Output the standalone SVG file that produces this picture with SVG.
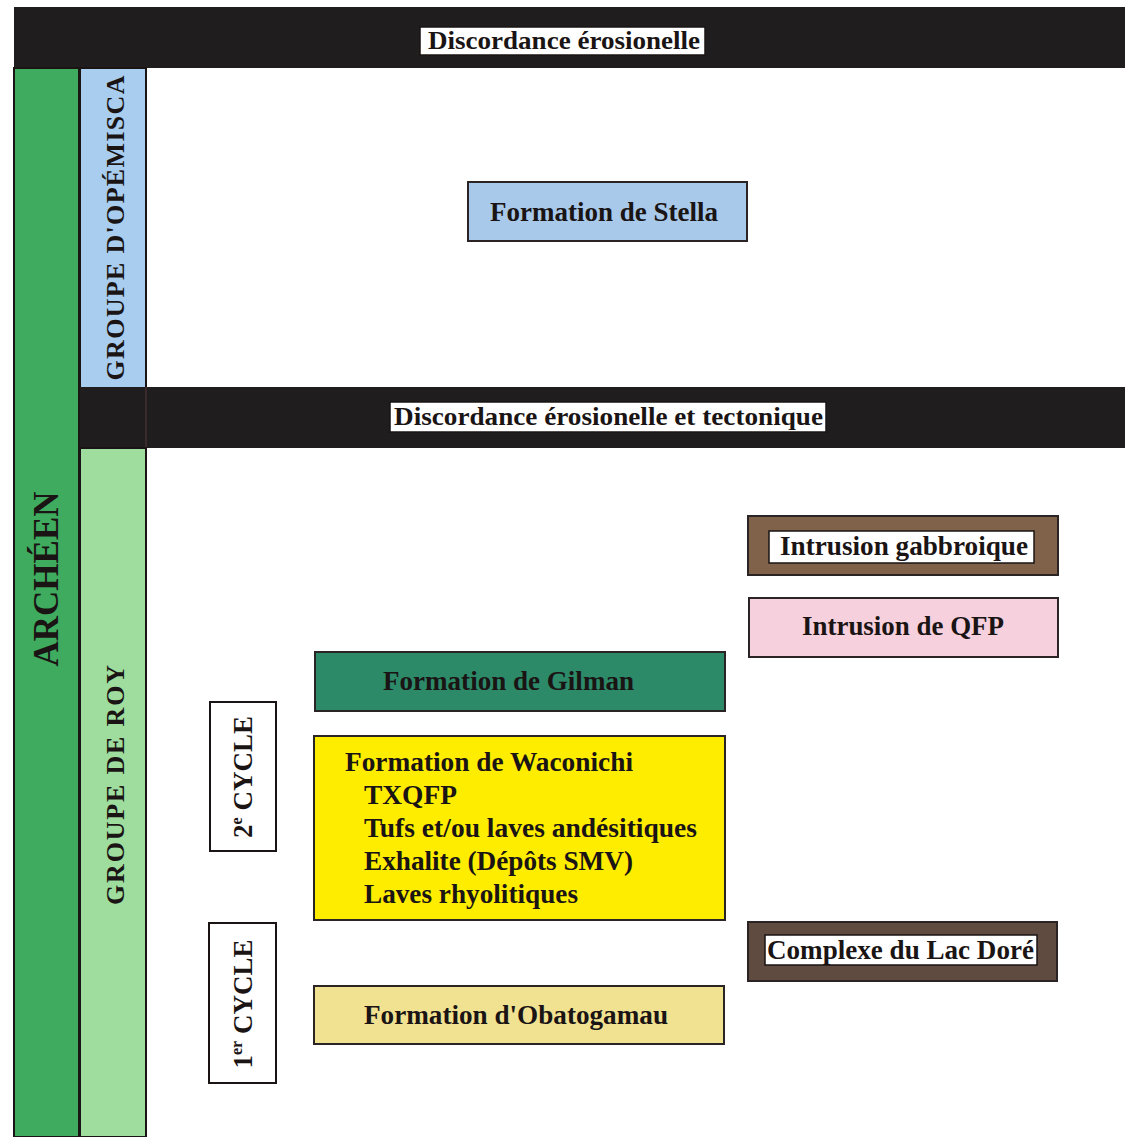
<svg xmlns="http://www.w3.org/2000/svg" width="1125" height="1137" viewBox="0 0 1125 1137">
<style>
text{font-family:"Liberation Serif","Times New Roman",serif;font-weight:bold;fill:#1a1414}
.band{fill:#1f1d1d}
.lab{fill:#ffffff;stroke:#1a1414;stroke-width:1.5}
.box{stroke:#2a2424;stroke-width:2}
</style>
<rect width="1125" height="1137" fill="#ffffff"/>
<g id="band-top">
<rect class="band" x="14" y="7" width="1111" height="61"/>
<rect class="lab" x="420" y="27" width="285" height="28"/>
<text x="428" y="49" font-size="26" textLength="272" lengthAdjust="spacingAndGlyphs">Discordance érosionelle</text>
</g>
<g id="archeen">
<rect x="14" y="68" width="65" height="1069" fill="#3fab5f" stroke="#1a1414" stroke-width="2"/>
<text transform="translate(58,579) rotate(-90)" font-size="35" text-anchor="middle">ARCHÉEN</text>
</g>
<g id="opemisca">
<rect x="80" y="68" width="66" height="320" fill="#a8cdee" stroke="#1a1414" stroke-width="2"/>
<text transform="translate(124,228) rotate(-90)" font-size="26" text-anchor="middle" textLength="305" lengthAdjust="spacing">GROUPE D'OPÉMISCA</text>
</g>
<g id="band-mid">
<rect class="band" x="80" y="387" width="1045" height="61"/>
<line x1="146" y1="387" x2="146" y2="448" stroke="#3a2a2a" stroke-width="2"/>
<rect class="lab" x="390" y="402" width="436" height="30"/>
<text x="394" y="425" font-size="26" textLength="429" lengthAdjust="spacingAndGlyphs">Discordance érosionelle et tectonique</text>
</g>
<g id="roy">
<rect x="80" y="448" width="66" height="689" fill="#9edd9d" stroke="#1a1414" stroke-width="2"/>
<text transform="translate(124,785) rotate(-90)" font-size="26" text-anchor="middle" textLength="240" lengthAdjust="spacing">GROUPE DE ROY</text>
</g>
<g id="stella">
<rect class="box" x="468" y="182" width="279" height="59" fill="#a8c9ea"/>
<text x="490" y="221" font-size="27" textLength="228" lengthAdjust="spacingAndGlyphs">Formation de Stella</text>
</g>
<g id="gabbro">
<rect class="box" x="748" y="516" width="310" height="59" fill="#7f6249"/>
<rect class="lab" x="769" y="531" width="265" height="32"/>
<text x="780" y="555" font-size="27" textLength="248" lengthAdjust="spacingAndGlyphs">Intrusion gabbroique</text>
</g>
<g id="qfp">
<rect class="box" x="749" y="598" width="309" height="59" fill="#f6d0dd"/>
<text x="802" y="635" font-size="27" textLength="202" lengthAdjust="spacingAndGlyphs">Intrusion de QFP</text>
</g>
<g id="gilman">
<rect class="box" x="315" y="652" width="410" height="59" fill="#2c8a69"/>
<text x="383" y="690" font-size="27" fill="#1e2a24" textLength="251" lengthAdjust="spacingAndGlyphs">Formation de Gilman</text>
</g>
<g id="cycle2">
<rect x="210" y="702" width="66" height="149" fill="#ffffff" stroke="#1a1414" stroke-width="2"/>
<text transform="translate(252,777) rotate(-90)" font-size="27" text-anchor="middle">2<tspan font-size="16" dy="-10">e</tspan><tspan dy="10"> CYCLE</tspan></text>
</g>
<g id="waconichi">
<rect class="box" x="314" y="736" width="411" height="184" fill="#ffed00"/>
<text font-size="27" x="345" y="771" textLength="288" lengthAdjust="spacingAndGlyphs">Formation de Waconichi</text>
<text font-size="27" x="364" y="804" textLength="93" lengthAdjust="spacingAndGlyphs">TXQFP</text>
<text font-size="27" x="364" y="837" textLength="333" lengthAdjust="spacingAndGlyphs">Tufs et/ou laves andésitiques</text>
<text font-size="27" x="364" y="870" textLength="269" lengthAdjust="spacingAndGlyphs">Exhalite (Dépôts SMV)</text>
<text font-size="27" x="364" y="903" textLength="214" lengthAdjust="spacingAndGlyphs">Laves rhyolitiques</text>
</g>
<g id="lacdore">
<rect class="box" x="748" y="922" width="309" height="59" fill="#5f4b40"/>
<rect class="lab" x="765" y="935" width="272" height="30"/>
<text x="767" y="959" font-size="27" textLength="267" lengthAdjust="spacingAndGlyphs">Complexe du Lac Doré</text>
</g>
<g id="cycle1">
<rect x="209" y="923" width="67" height="160" fill="#ffffff" stroke="#1a1414" stroke-width="2"/>
<text transform="translate(252,1004) rotate(-90)" font-size="27" text-anchor="middle">1<tspan font-size="16" dy="-10">er</tspan><tspan dy="10"> CYCLE</tspan></text>
</g>
<g id="obatogamau">
<rect class="box" x="314" y="986" width="410" height="58" fill="#f1e291"/>
<text x="364" y="1024" font-size="27" textLength="304" lengthAdjust="spacingAndGlyphs">Formation d'Obatogamau</text>
</g>
<g id="connectors"/>
</svg>
